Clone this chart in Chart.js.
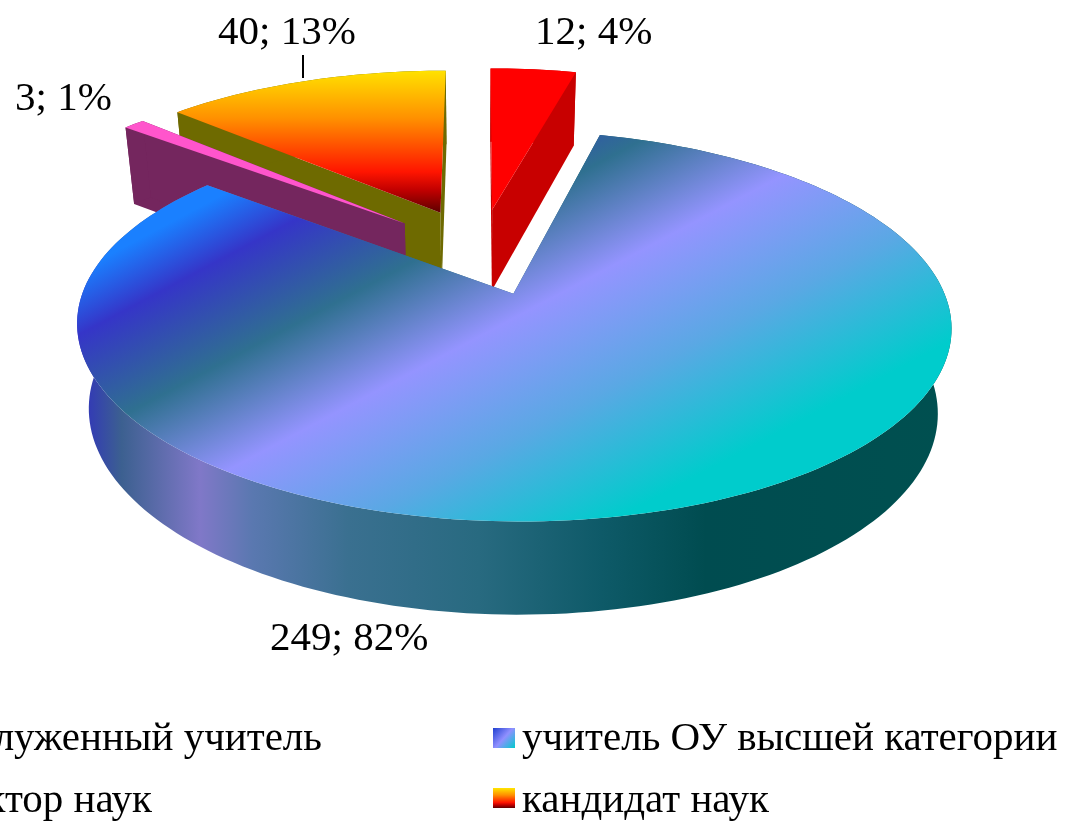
<!DOCTYPE html>
<html>
<head>
<meta charset="utf-8">
<style>
  html, body { margin: 0; padding: 0; background: #fff; overflow: hidden; }
  canvas { display: block; filter: blur(0.5px); }
</style>
<script src="https://cdn.jsdelivr.net/npm/chart.js@4/dist/chart.umd.js"></script>
</head>
<body>
<canvas id="chart" width="1069" height="822"></canvas>
<script>
// Данные диаграммы
const categories = ["заслуженный учитель", "учитель ОУ высшей категории", "доктор наук", "кандидат наук"];
const values = [12, 249, 3, 40];
const total = values.reduce((sum, v) => sum + v, 0);

// Камера и толщина "пирога"
const view = { cx: 480, cy: 251, rx: 415, ry: 176, persp: 0.16, sink: 0.028, depth: 85 };
const explodePx = 90;

// Заливки секторов
const mainStops = [[0.04, "#1a80ff"], [0.15, "#3535c8"], [0.33, "#2f7090"], [0.52, "#9494ff"], [0.73, "#5aa8e4"], [0.96, "#00cccc"]];
const mainWallStops = [[0, "#3030c0"], [0.05, "#3c6090"], [0.14, "#8078c8"], [0.2, "#5a78b0"], [0.31, "#3a7090"], [0.46, "#286a80"], [0.6, "#0e5a68"], [0.72, "#004c50"], [1, "#005050"]];
const orangeStops = [[0, "#ffe600"], [0.35, "#ff9000"], [0.72, "#ff1500"], [0.85, "#c00000"], [1, "#600000"]];

const sliceStyles = [
    { top: "#ff0000", wall: "#c80000" },
    { top: { line: [103, 235, 343, 687], stops: mainStops }, wall: { line: [78, 0, 950, 0], stops: mainWallStops } },
    { top: "#ff55cc", wall: "#74265e" },
    { top: { line: [0, 68, 0, 212], stops: orangeStops }, wall: "#6e6a00" }
];

// Подписи и легенда
const dataLabelPos = [
    { x: 535, y: 44 },
    { x: 270, y: 650 },
    { x: 15, y: 110 },
    { x: 218, y: 44 }
];
const leaderLine = [303, 55, 303, 78];
const legendPos = [
    { x: 322, y: 750, align: "right", mx: -130, my: 728 },
    { x: 522, y: 750, align: "left", mx: 493, my: 728 },
    { x: 152, y: 812, align: "right", mx: -130, my: 788 },
    { x: 522, y: 812, align: "left", mx: 493, my: 788 }
];
const legendMarkers = [
    { fill: "#ff0000" },
    { stops: [[0, "#2040d0"], [0.5, "#9090ff"], [1, "#00cccc"]], diagonal: true },
    { fill: "#ff55cc" },
    { stops: orangeStops }
];
const textFont = '41px "Liberation Serif"';

function project(u, v, z) {
    const w = 1 - view.persp * v + view.sink * z;
    return [view.cx + view.rx * u / w, view.cy + (view.ry * v + view.depth * z) / w];
}

function makeFill(ctx, spec) {
    if (typeof spec === "string") return spec;
    const g = ctx.createLinearGradient(...spec.line);
    spec.stops.forEach(s => g.addColorStop(s[0], s[1]));
    return g;
}

function fillPoly(ctx, pts, fill) {
    ctx.beginPath();
    pts.forEach((p, i) => i ? ctx.lineTo(p[0], p[1]) : ctx.moveTo(p[0], p[1]));
    ctx.closePath();
    ctx.fillStyle = fill;
    ctx.fill();
}

// Сектор в перспективе: углы и смещение берём у самого элемента Chart.js
class Arc3D extends Chart.ArcElement {
    draw(ctx) {
        const { startAngle, endAngle, outerRadius } = this.getProps(["startAngle", "endAngle", "outerRadius"]);
        const e = this.options.offset / outerRadius;
        const mid = (startAngle + endAngle) / 2;
        const ox = e * Math.cos(mid), oy = e * Math.sin(mid);
        const steps = Math.max(4, Math.ceil((endAngle - startAngle) * 40));
        const rim = [];
        for (let i = 0; i <= steps; i++) {
            const a = startAngle + (endAngle - startAngle) * i / steps;
            rim.push([ox + Math.cos(a), oy + Math.sin(a)]);
        }
        const top = rim.map(p => project(p[0], p[1], 0));
        const bottom = rim.map(p => project(p[0], p[1], 1));
        const apexTop = project(ox, oy, 0);
        const apexBottom = project(ox, oy, 1);
        const style = this.sliceStyle;
        const wallFill = makeFill(ctx, style.wall);

        ctx.save();
        fillPoly(ctx, [apexTop, top[0], bottom[0], apexBottom], wallFill);
        fillPoly(ctx, [apexTop, top[steps], bottom[steps], apexBottom], wallFill);
        fillPoly(ctx, top.concat(bottom.slice().reverse()), wallFill);
        fillPoly(ctx, [apexTop].concat(top), makeFill(ctx, style.top));
        ctx.restore();
    }
}
Arc3D.id = "arc3d";

// Рисуем от дальних секторов к ближним
class Pie3D extends Chart.PieController {
    draw() {
        const ctx = this.chart.ctx;
        const arcs = this.getMeta().data.map((el, i) => {
            el.sliceStyle = sliceStyles[i];
            return el;
        });
        arcs.sort((a, b) => Math.sin((a.startAngle + a.endAngle) / 2) - Math.sin((b.startAngle + b.endAngle) / 2));
        arcs.forEach(el => el.draw(ctx));
    }
}
Pie3D.id = "pie3d";
Pie3D.defaults = { dataElementType: "arc3d" };

Chart.register(Arc3D, Pie3D);

const labelsPlugin = {
    id: "labels3d",
    afterDraw(chart) {
        const ctx = chart.ctx;
        ctx.save();
        ctx.font = textFont;
        ctx.fillStyle = "#000";
        ctx.textBaseline = "alphabetic";

        values.forEach((v, i) => {
            ctx.textAlign = "left";
            ctx.fillText(v + "; " + Math.round(v / total * 100) + "%", dataLabelPos[i].x, dataLabelPos[i].y);
        });

        ctx.strokeStyle = "#000";
        ctx.lineWidth = 2;
        ctx.beginPath();
        ctx.moveTo(leaderLine[0], leaderLine[1]);
        ctx.lineTo(leaderLine[2], leaderLine[3]);
        ctx.stroke();

        categories.forEach((name, i) => {
            const pos = legendPos[i];
            ctx.textAlign = pos.align;
            ctx.fillStyle = "#000";
            ctx.fillText(name, pos.x, pos.y);

            const m = legendMarkers[i];
            let fill = m.fill;
            if (m.stops) {
                fill = ctx.createLinearGradient(pos.mx, pos.my, m.diagonal ? pos.mx + 22 : pos.mx, pos.my + 20);
                m.stops.forEach(s => fill.addColorStop(s[0], s[1]));
            }
            ctx.fillStyle = fill;
            ctx.fillRect(pos.mx, pos.my, 22, 20);
        });
        ctx.restore();
    }
};

new Chart(document.getElementById("chart"), {
    type: "pie3d",
    data: {
        labels: categories,
        datasets: [{
            data: values,
            offset: explodePx,
            borderWidth: 0,
            backgroundColor: ["#ff0000", "#4a90e0", "#ff55cc", "#ff9000"]
        }]
    },
    options: {
        responsive: false,
        animation: false,
        layout: { padding: 0 },
        plugins: { legend: { display: false }, tooltip: { enabled: false } }
    },
    plugins: [labelsPlugin]
});
</script>
</body>
</html>
